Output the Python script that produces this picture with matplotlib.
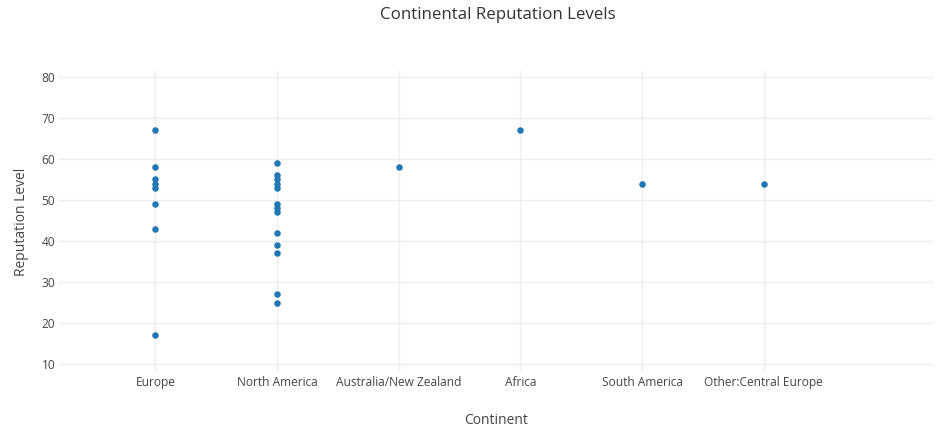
import numpy as np
import matplotlib.pyplot as plt

plt.rcParams['font.family'] = ['Open Sans', 'DejaVu Sans']

continents = ["Europe", "North America", "Australia/New Zealand", "Africa",
              "South America", "Other:Central Europe"]

europe = [67, 58, 55, 54, 53, 49, 43, 17]
north_america = [59, 56, 55, 54, 53, 49, 48, 47, 42, 39, 37, 27, 25]
australia = [58]
africa = [67]
south_america = [54]
other = [54]

groups = [europe, north_america, australia, africa, south_america, other]

xs = []
ys = []
for i, g in enumerate(groups):
    xs += [i] * len(g)
    ys += g

fig = plt.figure(figsize=(9.49, 4.37), dpi=100)
ax = fig.add_axes([58/949, (437-372)/437, (934-58)/949, (372-71)/437])

ax.scatter(xs, ys, s=22, color='#1f77b4', zorder=3, linewidths=0)

ax.set_xlim(-0.8, 6.4)
ax.set_ylim(8.05, 81.46)
ax.set_xticks(range(len(continents)))
ax.set_xticklabels(continents)
ax.set_yticks(np.arange(10, 81, 10))

for s in ax.spines.values():
    s.set_visible(False)
ax.grid(True, color='#eeeeee', linewidth=1)
ax.set_axisbelow(True)
ax.tick_params(length=0, labelsize=8.6, colors='#444444')
ax.tick_params(axis='x', pad=3)
ax.tick_params(axis='y', pad=2)

ax.set_xlabel("Continent", fontsize=10, color='#444444', labelpad=17)
ax.set_ylabel("Reputation Level", fontsize=10, color='#444444', labelpad=9)
fig.text(0.525, 1 - 15/437, "Continental Reputation Levels", fontsize=12.2,
         color='#333333', ha='center', va='center')

plt.savefig("out.png", dpi=100)
